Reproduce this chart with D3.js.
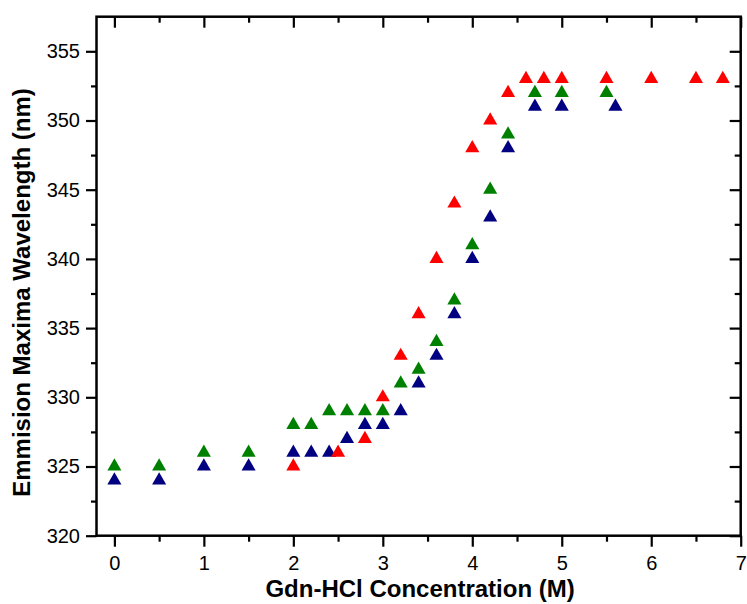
<!DOCTYPE html>
<html>
<head>
<meta charset="utf-8">
<script src="https://cdn.jsdelivr.net/npm/d3@7"></script>
<style>
  body { margin: 0; background: #fff; }
  svg { display: block; font-family: "Liberation Sans", Arial, sans-serif; }
</style>
</head>
<body>
<svg id="chart"></svg>
<script>
// Gdn-HCl concentration (M) and emission maxima (nm) for the three series
const blueX = [0, 0.5, 1, 1.5, 2, 2.2, 2.4, 2.6, 2.8, 3.0, 3.2, 3.4, 3.6, 3.8, 4.0, 4.2, 4.4, 4.7, 5.0, 5.6];
const blueY = [324, 324, 325, 325, 326, 326, 326, 327, 328, 328, 329, 331, 333, 336, 340, 343, 348, 351, 351, 351];

const greenX = [0, 0.5, 1, 1.5, 2, 2.2, 2.4, 2.6, 2.8, 3.0, 3.2, 3.4, 3.6, 3.8, 4.0, 4.2, 4.4, 4.7, 5.0, 5.5];
const greenY = [325, 325, 326, 326, 328, 328, 329, 329, 329, 329, 331, 332, 334, 337, 341, 345, 349, 352, 352, 352];

const redX = [2, 2.5, 2.8, 3.0, 3.2, 3.4, 3.6, 3.8, 4.0, 4.2, 4.4, 4.6, 4.8, 5.0, 5.5, 6.0, 6.5, 6.8];
const redY = [325, 326, 327, 330, 333, 336, 340, 344, 348, 350, 352, 353, 353, 353, 353, 353, 353, 353];

const xTicks = [0, 1, 2, 3, 4, 5, 6, 7];
const yTicks = [320, 325, 330, 335, 340, 345, 350, 355];

const width = 747, height = 604;
const plotL = 96.5, plotR = 740.7, plotT = 16.7, plotB = 535.7;

const svg = d3.select("#chart")
    .attr("width", width)
    .attr("height", height);

const x = d3.scaleLinear().domain([-0.2, 7]).range([plotL, plotR]);
const y = d3.scaleLinear().domain([320, 357.5]).range([plotB, plotT]);

const xMinor = d3.range(0, 7.01, 0.5).filter(v => !xTicks.includes(v));
const yMinor = d3.range(322.5, 357.5, 5);

function styleAxis(g) {
    g.select(".domain").remove();
    g.selectAll("line").attr("stroke", "#000").attr("stroke-width", 2.2);
    g.selectAll("text")
        .attr("fill", "#000")
        .style("font-size", "20px");
}

// bottom axis (outward ticks, labels)
svg.append("g")
    .attr("transform", `translate(0,${plotB})`)
    .call(d3.axisBottom(x).tickValues(xTicks).tickSize(11).tickPadding(9).tickFormat(d3.format("d")))
    .call(styleAxis);
svg.append("g")
    .attr("transform", `translate(0,${plotB})`)
    .call(d3.axisBottom(x).tickValues(xMinor).tickSize(6).tickFormat(""))
    .call(styleAxis);

// left axis
svg.append("g")
    .attr("transform", `translate(${plotL},0)`)
    .call(d3.axisLeft(y).tickValues(yTicks).tickSize(10.5).tickPadding(6).tickFormat(d3.format("d")))
    .call(styleAxis);
svg.append("g")
    .attr("transform", `translate(${plotL},0)`)
    .call(d3.axisLeft(y).tickValues(yMinor).tickSize(5.5).tickFormat(""))
    .call(styleAxis);

// top axis, inward ticks, no labels
svg.append("g")
    .attr("transform", `translate(0,${plotT})`)
    .call(d3.axisBottom(x).tickValues(xTicks).tickSize(11).tickFormat(""))
    .call(styleAxis);
svg.append("g")
    .attr("transform", `translate(0,${plotT})`)
    .call(d3.axisBottom(x).tickValues(xMinor).tickSize(6).tickFormat(""))
    .call(styleAxis);

// right axis, inward ticks
svg.append("g")
    .attr("transform", `translate(${plotR},0)`)
    .call(d3.axisLeft(y).tickValues(yTicks).tickSize(11).tickFormat(""))
    .call(styleAxis);
svg.append("g")
    .attr("transform", `translate(${plotR},0)`)
    .call(d3.axisLeft(y).tickValues(yMinor).tickSize(6).tickFormat(""))
    .call(styleAxis);

// frame
svg.append("rect")
    .attr("x", plotL)
    .attr("y", plotT)
    .attr("width", plotR - plotL)
    .attr("height", plotB - plotT)
    .attr("fill", "none")
    .attr("stroke", "#000")
    .attr("stroke-width", 2.5);

// series
const series = [
    { xs: blueX, ys: blueY, color: "#000080" },
    { xs: greenX, ys: greenY, color: "#008000" },
    { xs: redX, ys: redY, color: "#ff0000" }
];

const tri = d3.symbol().type(d3.symbolTriangle).size(86);

series.forEach(s => {
    const pts = s.xs.map((v, i) => [v, s.ys[i]]);
    svg.append("g")
        .selectAll("path")
        .data(pts)
        .join("path")
        .attr("transform", d => `translate(${x(d[0])},${y(d[1])})`)
        .attr("d", tri)
        .attr("fill", s.color);
});

// axis titles
svg.append("text")
    .attr("x", (plotL + plotR) / 2 + 1.5)
    .attr("y", 597)
    .attr("text-anchor", "middle")
    .style("font-size", "24px")
    .style("font-weight", "bold")
    .text("Gdn-HCl Concentration (M)");

svg.append("text")
    .attr("transform", "translate(30,292.5) rotate(-90)")
    .attr("text-anchor", "middle")
    .style("font-size", "24px")
    .style("font-weight", "bold")
    .text("Emmision Maxima Wavelength (nm)");
</script>
</body>
</html>
